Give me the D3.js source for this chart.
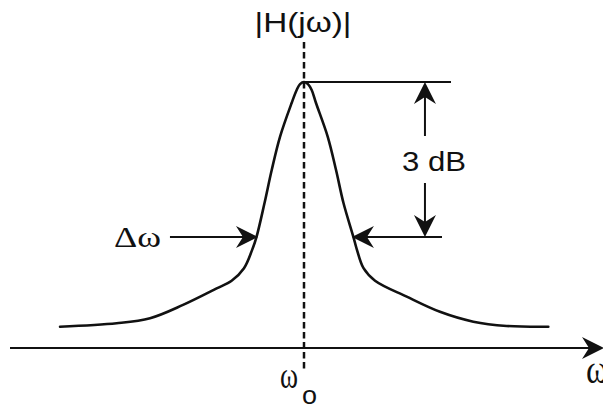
<!DOCTYPE html>
<html>
<head>
<meta charset="utf-8">
<script src="https://cdn.jsdelivr.net/npm/d3@7/dist/d3.min.js"></script>
<style>
  html, body { margin: 0; padding: 0; background: #fff; }
  svg { display: block; }
  .sans { font-family: "Liberation Sans", Arial, sans-serif; }
  .serif { font-family: "Liberation Serif", "Times New Roman", serif; }
</style>
</head>
<body>
<svg id="chart" width="603" height="405"></svg>
<script>
// Resonance curve: frequency offset from the centre frequency (relative units)
const omegaOffset = [-2.033, -1.561, -1.283, -1.008, -0.728, -0.603, -0.500, -0.433, -0.396,
  -0.329, -0.269, -0.200, -0.103, -0.061, -0.033, 0, 0.033, 0.064, 0.100, 0.198, 0.267, 0.329,
  0.412, 0.442, 0.496, 0.592, 0.856, 1.133, 1.411, 1.689, 2.036];
// |H(jω)| relative to the peak
const magnitude = [0.080, 0.093, 0.112, 0.162, 0.224, 0.253, 0.300, 0.368, 0.417,
  0.545, 0.669, 0.794, 0.921, 0.970, 0.992, 1.000, 0.992, 0.970, 0.921, 0.794, 0.669, 0.545,
  0.417, 0.368, 0.300, 0.253, 0.193, 0.136, 0.099, 0.083, 0.080];

// Half-power level and the band edges where the curve crosses it
const halfPowerLevel = 0.417;
const bandEdges = [-0.396, 0.412];

const labels = {
  yAxis: "|H(jω)|",
  xAxis: "ω",
  centre: "ω",
  centreSub: "o",
  bandwidth: "Δω",
  drop: "3 dB"
};

const svg = d3.select("#chart");
const x = d3.scaleLinear().domain([-2.5, 2.5]).range([4, 604]);
const y = d3.scaleLinear().domain([0, 1]).range([348, 82]);

const ink = "#111";

// Filled, notched arrowhead with its tip at (tx, ty), pointing along angle a
function arrowHead(tx, ty, a, len = 22, half = 11, notch = 7) {
  const c = Math.cos(a), s = Math.sin(a);
  const pt = (along, across) => [tx - along * c - across * s, ty - along * s + across * c];
  const pts = [pt(0, 0), pt(len, half), pt(len - notch, 0), pt(len, -half)];
  svg.append("path")
    .attr("d", "M" + pts.map(p => p.join(",")).join("L") + "Z")
    .attr("fill", ink);
}

function arrow(x1, y1, x2, y2, width = 2) {
  const a = Math.atan2(y2 - y1, x2 - x1);
  svg.append("line")
    .attr("x1", x1).attr("y1", y1)
    .attr("x2", x2 - 12 * Math.cos(a)).attr("y2", y2 - 12 * Math.sin(a))
    .attr("stroke", ink).attr("stroke-width", width);
  arrowHead(x2, y2, a);
}

// Frequency axis
arrow(x(-2.45), y(0), x(2.5), y(0), 2.2);

// Centre-frequency marker
svg.append("line")
  .attr("x1", x(0)).attr("x2", x(0))
  .attr("y1", 42).attr("y2", 370)
  .attr("stroke", ink).attr("stroke-width", 2.5)
  .attr("stroke-dasharray", "6.5,3.5");

// Response curve
const line = d3.line()
  .x((d, i) => x(omegaOffset[i]))
  .y(d => y(d))
  .curve(d3.curveCatmullRom.alpha(0.5));
svg.append("path")
  .attr("d", line(magnitude))
  .attr("fill", "none")
  .attr("stroke", ink)
  .attr("stroke-width", 2.6)
  .attr("stroke-linecap", "round");

// Reference line at the peak
svg.append("line")
  .attr("x1", x(0)).attr("x2", x(1.225))
  .attr("y1", y(1)).attr("y2", y(1))
  .attr("stroke", ink).attr("stroke-width", 2);

// 3 dB drop arrows
const dropX = x(1.008);
arrow(dropX, 136, dropX, y(1));
arrow(dropX, 183, dropX, y(halfPowerLevel));

// Bandwidth arrows pointing at the half-power crossings
arrow(x(-1.117), y(halfPowerLevel), x(bandEdges[0]) + 1.5, y(halfPowerLevel));
arrow(x(1.15), y(halfPowerLevel), x(bandEdges[1]) - 1.5, y(halfPowerLevel));

// Labels (set widths keep the wide lettering of the figure)
function label(cls, tx, ty, size, str, width, anchor = "start") {
  const t = svg.append("text").attr("class", cls)
    .attr("x", tx).attr("y", ty)
    .attr("text-anchor", anchor)
    .attr("font-size", size)
    .attr("fill", ink)
    .text(str);
  if (width) t.attr("textLength", width).attr("lengthAdjust", "spacingAndGlyphs");
  return t;
}

label("sans", x(0) - 1, 32, 28, labels.yAxis, 97, "middle");
label("sans", 434, 171, 27, labels.drop, 64, "middle");
label("serif", 114, 247, 29, labels.bandwidth, 47);
label("serif", 280, 388, 38, labels.centre, 18);
label("sans", 302, 404, 26, labels.centreSub, 15);
label("serif", 586, 383, 40, labels.xAxis, 22);
</script>
</body>
</html>
